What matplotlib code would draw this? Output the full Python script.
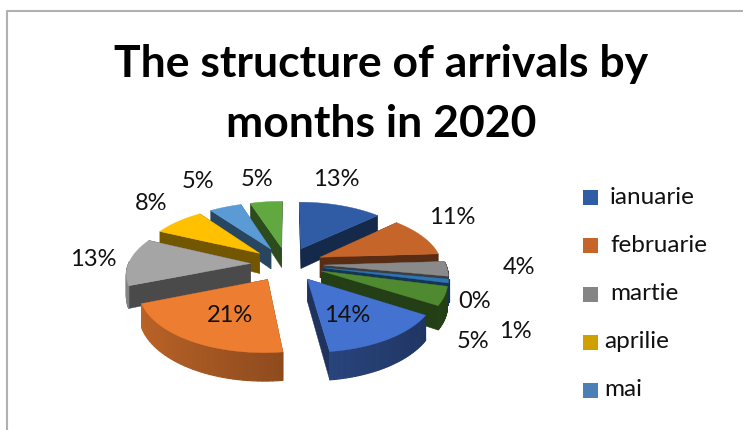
import numpy as np
import matplotlib
matplotlib.use('Agg')
import matplotlib.pyplot as plt
from matplotlib.patches import Polygon, Rectangle
from matplotlib.colors import to_rgb

plt.rcParams['font.family'] = ['Lato', 'DejaVu Sans']

#--- data
months = ['ianuarie', 'februarie', 'martie', 'aprilie', 'mai', 'iunie',
          'iulie', 'august', 'septembrie', 'octombrie', 'noiembrie', 'decembrie']
shares = [13, 11, 4, 0, 1, 5, 14, 21, 13, 8, 5, 5]
colors = ['#2F5CA5', '#C5652A', '#8A8A8A', '#BF9000', '#2E75B6', '#4F8A30',
          '#4472D0', '#ED7D31', '#A5A5A5', '#FFC000', '#5B9BD5', '#62A840']
legend_months = months[:5]
legend_colors = ['#2F5CA5', '#C5652A', '#858585', '#D0A000', '#4A80B5']

#--- where things sit on the canvas (pixels)
label_pos = [(336, 180), (452, 217), (519, 268), (475, 302), (515, 331), (473, 342),
             (347, 316), (230, 316), (93, 260), (151, 204), (198, 181), (257, 180)]
legend_y = [197, 245, 294, 342, 390]
legend_text_x = [610, 610, 610, 604, 604]

#--- 3D pie geometry
CX, CY = 287, 264
RX, RY = 122, 57.5
PERSP = 0.146
DEPTH = 21
EXPLODE = 0.3


def project(u, v, z=0.0):
    # u to the right, v towards the viewer, z = 1 on the bottom face
    s = 1.0 / (1.0 - PERSP * np.asarray(v))
    return CX + s * u * RX, CY + s * v * RY + z * DEPTH * s ** 1.5


def shade(col, f):
    return tuple(min(1, c * f) for c in to_rgb(col))


def add_poly(ax, xs, ys, col, lw=0.3):
    ax.add_patch(Polygon(np.column_stack([xs, ys]), closed=True, facecolor=col,
                         edgecolor=col, linewidth=lw))


def draw_slice(ax, start, end, col):
    mid = (start + end) / 2
    u0, v0 = EXPLODE * np.sin(mid), -EXPLODE * np.cos(mid)
    th = np.linspace(start, end, 40)
    u = u0 + np.sin(th)
    v = v0 - np.cos(th)
    # radial walls first, the front faces paint over whichever one faces away
    for i in (0, -1):
        x1, y1 = project(np.array([u0, u[i]]), np.array([v0, v[i]]), 0)
        x2, y2 = project(np.array([u[i], u0]), np.array([v[i], v0]), 1)
        add_poly(ax, np.r_[x1, x2], np.r_[y1, y2], shade(col, 0.45))
    # outer rim, one quad per step so the light can change along it
    for i in range(len(th) - 1):
        if np.cos((th[i] + th[i + 1]) / 2) > 0.05:
            continue
        uu, vv = u[i:i + 2], v[i:i + 2]
        x1, y1 = project(uu, vv, 0)
        x2, y2 = project(uu[::-1], vv[::-1], 1)
        f = 0.62 - 0.18 * np.sin((th[i] + th[i + 1]) / 2)
        add_poly(ax, np.r_[x1, x2], np.r_[y1, y2], shade(col, f), lw=0.8)
    # top face
    x, y = project(np.r_[u0, u], np.r_[v0, v], 0)
    add_poly(ax, x, y, col)


fig = plt.figure(figsize=(7.43, 4.3), dpi=100)
ax = fig.add_axes([0, 0, 1, 1])
ax.set_xlim(0, 743)
ax.set_ylim(430, 0)
ax.axis('off')

# chart frame, only the top and left edges fall inside the canvas
ax.plot([7, 7, 743], [430, 11, 11], color='#B0B0B0', lw=1.5)

ax.text(381, 64, 'The structure of arrivals by', fontsize=32, fontweight='bold',
        ha='center', va='center')
ax.text(381, 124, 'months in 2020', fontsize=32, fontweight='bold',
        ha='center', va='center')

edges = 2 * np.pi * np.r_[0, np.cumsum(shares)] / sum(shares)
mids = (edges[:-1] + edges[1:]) / 2
# back slices first
for i in np.argsort(-np.cos(mids)):
    if shares[i] > 0:
        draw_slice(ax, edges[i], edges[i + 1], colors[i])

for val, (x, y) in zip(shares, label_pos):
    ax.text(x, y, '%d%%' % val, fontsize=17, ha='center', va='center', color='#111111')

for name, col, y, tx in zip(legend_months, legend_colors, legend_y, legend_text_x):
    ax.add_patch(Rectangle((583, y - 7.5), 15, 15, facecolor=col, edgecolor='none'))
    ax.text(tx, y, name, fontsize=17.5, ha='left', va='center', color='#111111')

fig.savefig('out.png', dpi=100)
